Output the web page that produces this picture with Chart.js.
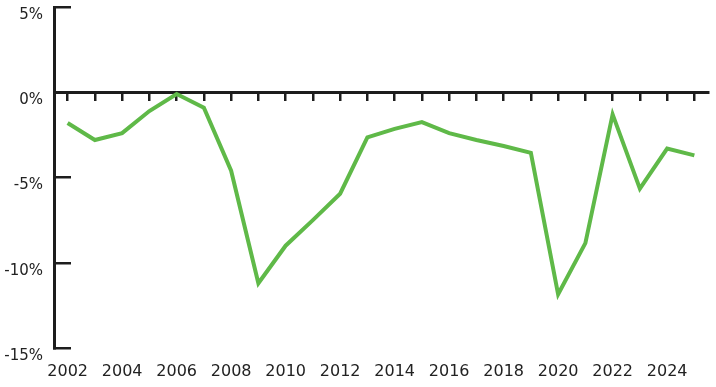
<!DOCTYPE html>
<html>
<head>
<meta charset="utf-8">
<script src="https://cdn.jsdelivr.net/npm/chart.js@4/dist/chart.umd.min.js"></script>
<style>
  html, body { margin: 0; padding: 0; background: #ffffff; }
  #wrap { width: 716px; height: 387px; position: relative; }
</style>
</head>
<body>
<div id="wrap"><canvas id="c"></canvas></div>
<script>
const years = ['2002','2003','2004','2005','2006','2007','2008','2009','2010','2011','2012','2013',
               '2014','2015','2016','2017','2018','2019','2020','2021','2022','2023','2024','2025'];
const values = [-1.8, -2.8, -2.4, -1.1, -0.1, -0.9, -4.6, -11.2, -9.0, -7.5, -5.95, -2.65,
                -2.15, -1.75, -2.4, -2.8, -3.15, -3.55, -11.85, -8.85, -1.3, -5.65, -3.3, -3.7];
const xTickLabels = ['2002','2004','2006','2008','2010','2012','2014','2016','2018','2020','2022','2024'];
const yTickValues = [5, 0, -5, -10, -15];

const INK = '#1d1d1d';
const TEXT = '#222222';

new Chart(document.getElementById('c'), {
  type: 'line',
  data: {
    labels: years,
    datasets: [{
      data: values,
      xAxisID: 'x',
      yAxisID: 'y',
      borderColor: '#5fb948',
      borderWidth: 4,
      pointRadius: 0,
      tension: 0,
      fill: false
    }]
  },
  options: {
    responsive: true,
    maintainAspectRatio: false,
    animation: false,
    layout: { padding: { left: 0, right: 8, top: 7, bottom: 0 } },
    plugins: { legend: { display: false }, tooltip: { enabled: false } },
    scales: {
      x: {
        type: 'category',
        position: 'bottom',
        offset: true,
        grid: { display: false, drawTicks: false },
        border: { display: false },
        ticks: {
          autoSkip: false,
          maxRotation: 0,
          padding: 14,
          color: TEXT,
          font: { family: 'DejaVu Sans', size: 16 },
          callback: function (v, i) {
            const lab = years[i];
            return xTickLabels.includes(lab) ? lab : '';
          }
        },
        afterFit: function (s) { s.height = 39; }
      },
      x0: {
        type: 'category',
        labels: years,
        position: { y: 0 },
        offset: true,
        grid: {
          display: true,
          drawOnChartArea: false,
          drawTicks: true,
          tickLength: 7,
          color: INK,
          lineWidth: 2.5,
          offset: false
        },
        border: { display: true, color: INK, width: 3 },
        ticks: { display: false }
      },
      y: {
        type: 'linear',
        position: 'left',
        min: -15,
        max: 5,
        afterBuildTicks: function (s) { s.ticks = yTickValues.map(v => ({ value: v })); },
        grid: {
          display: true,
          drawOnChartArea: false,
          drawTicks: true,
          tickLength: -17,
          color: INK,
          lineWidth: 2.5
        },
        border: { display: true, color: INK, width: 3 },
        ticks: {
          padding: 28,
          labelOffset: 8,
          color: TEXT,
          font: { family: 'DejaVu Sans', size: 15 },
          callback: function (v) { return v + '%'; }
        },
        afterFit: function (s) { s.width = 54; s.paddingTop = 0; s.paddingBottom = 0; }
      }
    }
  }
});
</script>
</body>
</html>
